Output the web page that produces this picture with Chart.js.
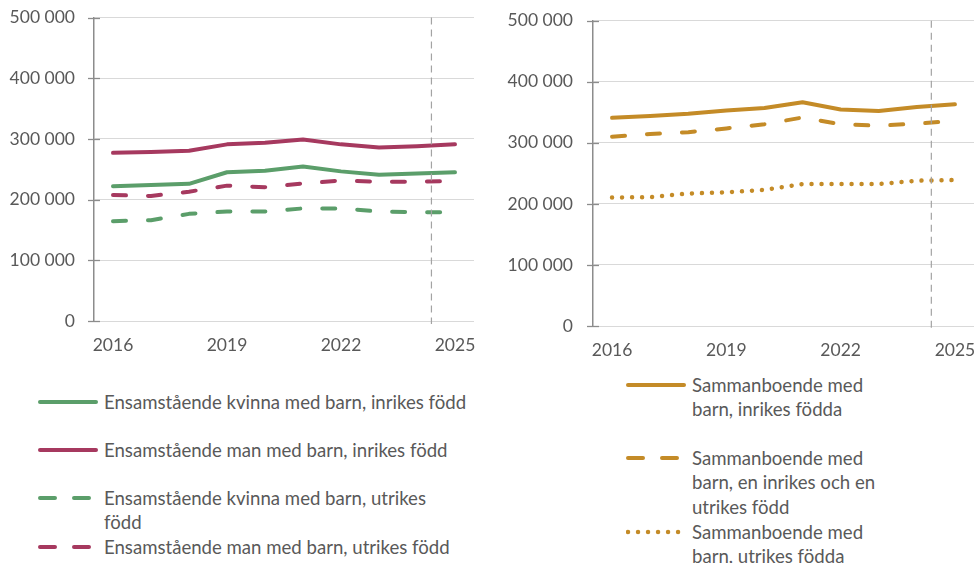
<!DOCTYPE html>
<html>
<head>
<meta charset="utf-8">
<script src="https://cdn.jsdelivr.net/npm/chart.js@4/dist/chart.umd.min.js"></script>
<style>
  html, body { margin: 0; padding: 0; background: #ffffff; }
  body { width: 974px; height: 563px; position: relative; overflow: hidden; font-family: Lato, "Open Sans", sans-serif; color: #595959; }
  .wrap { position: absolute; }
  .leg { position: absolute; font-size: 18.6px; line-height: 24.5px; color: #595959; white-space: nowrap; }
  .sample { position: absolute; }
</style>
</head>
<body>
<div class="wrap" id="wl" style="left:0;top:0;width:480px;height:362px;"><canvas id="cl" width="480" height="362"></canvas></div>
<div class="wrap" id="wr" style="left:490px;top:0;width:490px;height:366px;"><canvas id="cr" width="490" height="366"></canvas></div>
<div id="legends"></div>
<script>
// ---- data ----
const years = ['2016','2017','2018','2019','2020','2021','2022','2023','2024','2025'];
const yTicks = [0, 100000, 200000, 300000, 400000, 500000];

const kvinnaInrikes = [222000, 224000, 226000, 245000, 247500, 254500, 246500, 241000, 243000, 245000];
const manInrikes    = [277000, 278500, 280500, 291000, 293500, 299000, 291000, 286000, 288000, 291000];
const kvinnaUtrikes = [164500, 166000, 176500, 180500, 180500, 185500, 185500, 180500, 179000, 179000];
const manUtrikes    = [207500, 206000, 213000, 223000, 220500, 226500, 231500, 229500, 229500, 230500];

const sambInrikes   = [341000, 344000, 347500, 353000, 357000, 366500, 354500, 352000, 358500, 363000];
const sambBlandad   = [310000, 314500, 317500, 323500, 330500, 341500, 330500, 328000, 331500, 336000];
const sambUtrikes   = [210500, 211000, 217000, 219000, 223000, 232500, 232500, 232500, 238000, 239000];

const leftLabels = ['Ensamstående kvinna med barn, inrikes född', 'Ensamstående man med barn, inrikes född', 'Ensamstående kvinna med barn, utrikes\nfödd', 'Ensamstående man med barn, utrikes född'];
const rightLabels = ['Sammanboende med\nbarn, inrikes födda', 'Sammanboende med\nbarn, en inrikes och en\nutrikes född', 'Sammanboende med\nbarn, utrikes födda'];

// reference marker position (category index between 2024 and 2025)
const markerIndex = 8.38;

// ---- styles ----
const GREEN = '#5b9e6a', MAROON = '#a6395f', GOLD = '#c48b27';
const TXT = '#595959', GRID = '#d9d9d9', AXIS = '#8c8c8c';
const FONT = { family: 'Lato, "Open Sans", sans-serif', size: 17.5 };
const DASH = [13, 22], DOT = [0.01, 10];

function fmt(v) { return String(v).replace(/\B(?=(\d{3})+(?!\d))/g, ' '); }

const crossTicks = {
  id: 'crossTicks',
  afterDatasetsDraw(chart) {
    const y = chart.scales.y, x = chart.scales.x, ctx = chart.ctx;
    const ax = chart.chartArea.left;
    ctx.save();
    ctx.strokeStyle = AXIS; ctx.lineWidth = 1.3;
    y.ticks.forEach(t => {
      const py = Math.round(y.getPixelForValue(t.value)) + 0.5;
      ctx.beginPath(); ctx.moveTo(ax - 6, py); ctx.lineTo(ax + 6, py); ctx.stroke();
    });
    // vertical dashed reference line
    const px = x.getPixelForValue(markerIndex);
    ctx.strokeStyle = '#a3a3a3'; ctx.lineWidth = 1.2; ctx.setLineDash([7, 5]);
    ctx.beginPath(); ctx.moveTo(px, chart.chartArea.top); ctx.lineTo(px, chart.chartArea.bottom + 3); ctx.stroke();
    ctx.restore();
  }
};

function ds(label, data, color, dash, width) {
  return { label, data, borderColor: color, backgroundColor: color, borderWidth: width || 4,
    borderDash: dash || [], borderCapStyle: 'round', borderJoinStyle: 'round',
    pointRadius: 0, pointHoverRadius: 0, tension: 0, fill: false };
}

function makeChart(canvasId, datasets, yWidth, xHeight, padTop, padRight, yGap) {
  return new Chart(document.getElementById(canvasId), {
    type: 'line',
    data: { labels: years, datasets },
    plugins: [crossTicks],
    options: {
      responsive: false, animation: false, devicePixelRatio: 1,
      layout: { padding: { top: padTop, right: padRight, left: 0, bottom: 0 } },
      plugins: { legend: { display: false }, tooltip: { enabled: false } },
      scales: {
        x: {
          type: 'category', offset: true,
          grid: { display: true, drawOnChartArea: false, drawTicks: true, tickLength: 14,
                  color: 'rgba(0,0,0,0)', tickColor: 'rgba(0,0,0,0)' },
          border: { display: false },
          ticks: { autoSkip: false, maxRotation: 0, color: TXT, font: FONT, padding: 0,
            callback: (v, i) => (i % 3 === 0 ? years[i] : '') },
          afterFit: s => { s.height = xHeight; }
        },
        y: {
          min: 0, max: 500000,
          afterBuildTicks: s => { s.ticks = yTicks.map(v => ({ value: v })); },
          grid: { color: GRID, lineWidth: 1, drawTicks: true, tickLength: yGap, tickColor: 'rgba(0,0,0,0)' },
          border: { display: true, color: AXIS, width: 1.5 },
          ticks: { color: TXT, font: FONT, padding: 0, callback: v => fmt(v) },
          afterFit: s => { s.width = yWidth; }
        }
      }
    }
  });
}

makeChart('cl', [
  ds(leftLabels[0], kvinnaInrikes, GREEN),
  ds(leftLabels[1], manInrikes, MAROON),
  ds(leftLabels[2], kvinnaUtrikes, GREEN, DASH),
  ds(leftLabels[3], manUtrikes, MAROON, DASH)
], 94, 41, 17.5, 6, 19);

makeChart('cr', [
  ds(rightLabels[0], sambInrikes, GOLD),
  ds(rightLabels[1], sambBlandad, GOLD, DASH),
  ds(rightLabels[2], sambUtrikes, GOLD, DOT, 4.5)
], 103, 40, 20.7, 6, 20);

// ---- HTML legends ----
const legendsEl = document.getElementById('legends');
function sample(x, y, color, kind) {
  const w = 62;
  let dash = '', x1 = 2, x2 = 58, sw = 4;
  if (kind === 'dash') { dash = 'stroke-dasharray="15 19"'; x1 = 2; x2 = 51; }
  if (kind === 'dot') { dash = 'stroke-dasharray="0.01 10"'; x1 = 2; x2 = 53; sw = 4.5; }
  const svg = `<svg class="sample" style="left:${x - 2}px;top:${y - 4}px" width="${w}" height="8"><line x1="${x1}" y1="4" x2="${x2}" y2="4" stroke="${color}" stroke-width="${sw}" stroke-linecap="round" ${dash}/></svg>`;
  legendsEl.insertAdjacentHTML('beforeend', svg);
}
function text(x, yCenterFirst, str) {
  const d = document.createElement('div');
  d.className = 'leg';
  d.style.left = x + 'px';
  d.style.top = (yCenterFirst - 12.25) + 'px';
  d.innerHTML = str.split('\n').join('<br>');
  legendsEl.appendChild(d);
}
const leftRows = [402, 450, 498, 547];
const leftKinds = ['solid', 'solid', 'dash', 'dash'];
const leftColors = [GREEN, MAROON, GREEN, MAROON];
leftRows.forEach((y, i) => { sample(40, y, leftColors[i], leftKinds[i]); text(104, y, leftLabels[i]); });

const rightRows = [385, 458, 532];
const rightKinds = ['solid', 'dash', 'dot'];
rightRows.forEach((y, i) => { sample(628, y, GOLD, rightKinds[i]); text(692, y, rightLabels[i]); });
</script>
</body>
</html>
